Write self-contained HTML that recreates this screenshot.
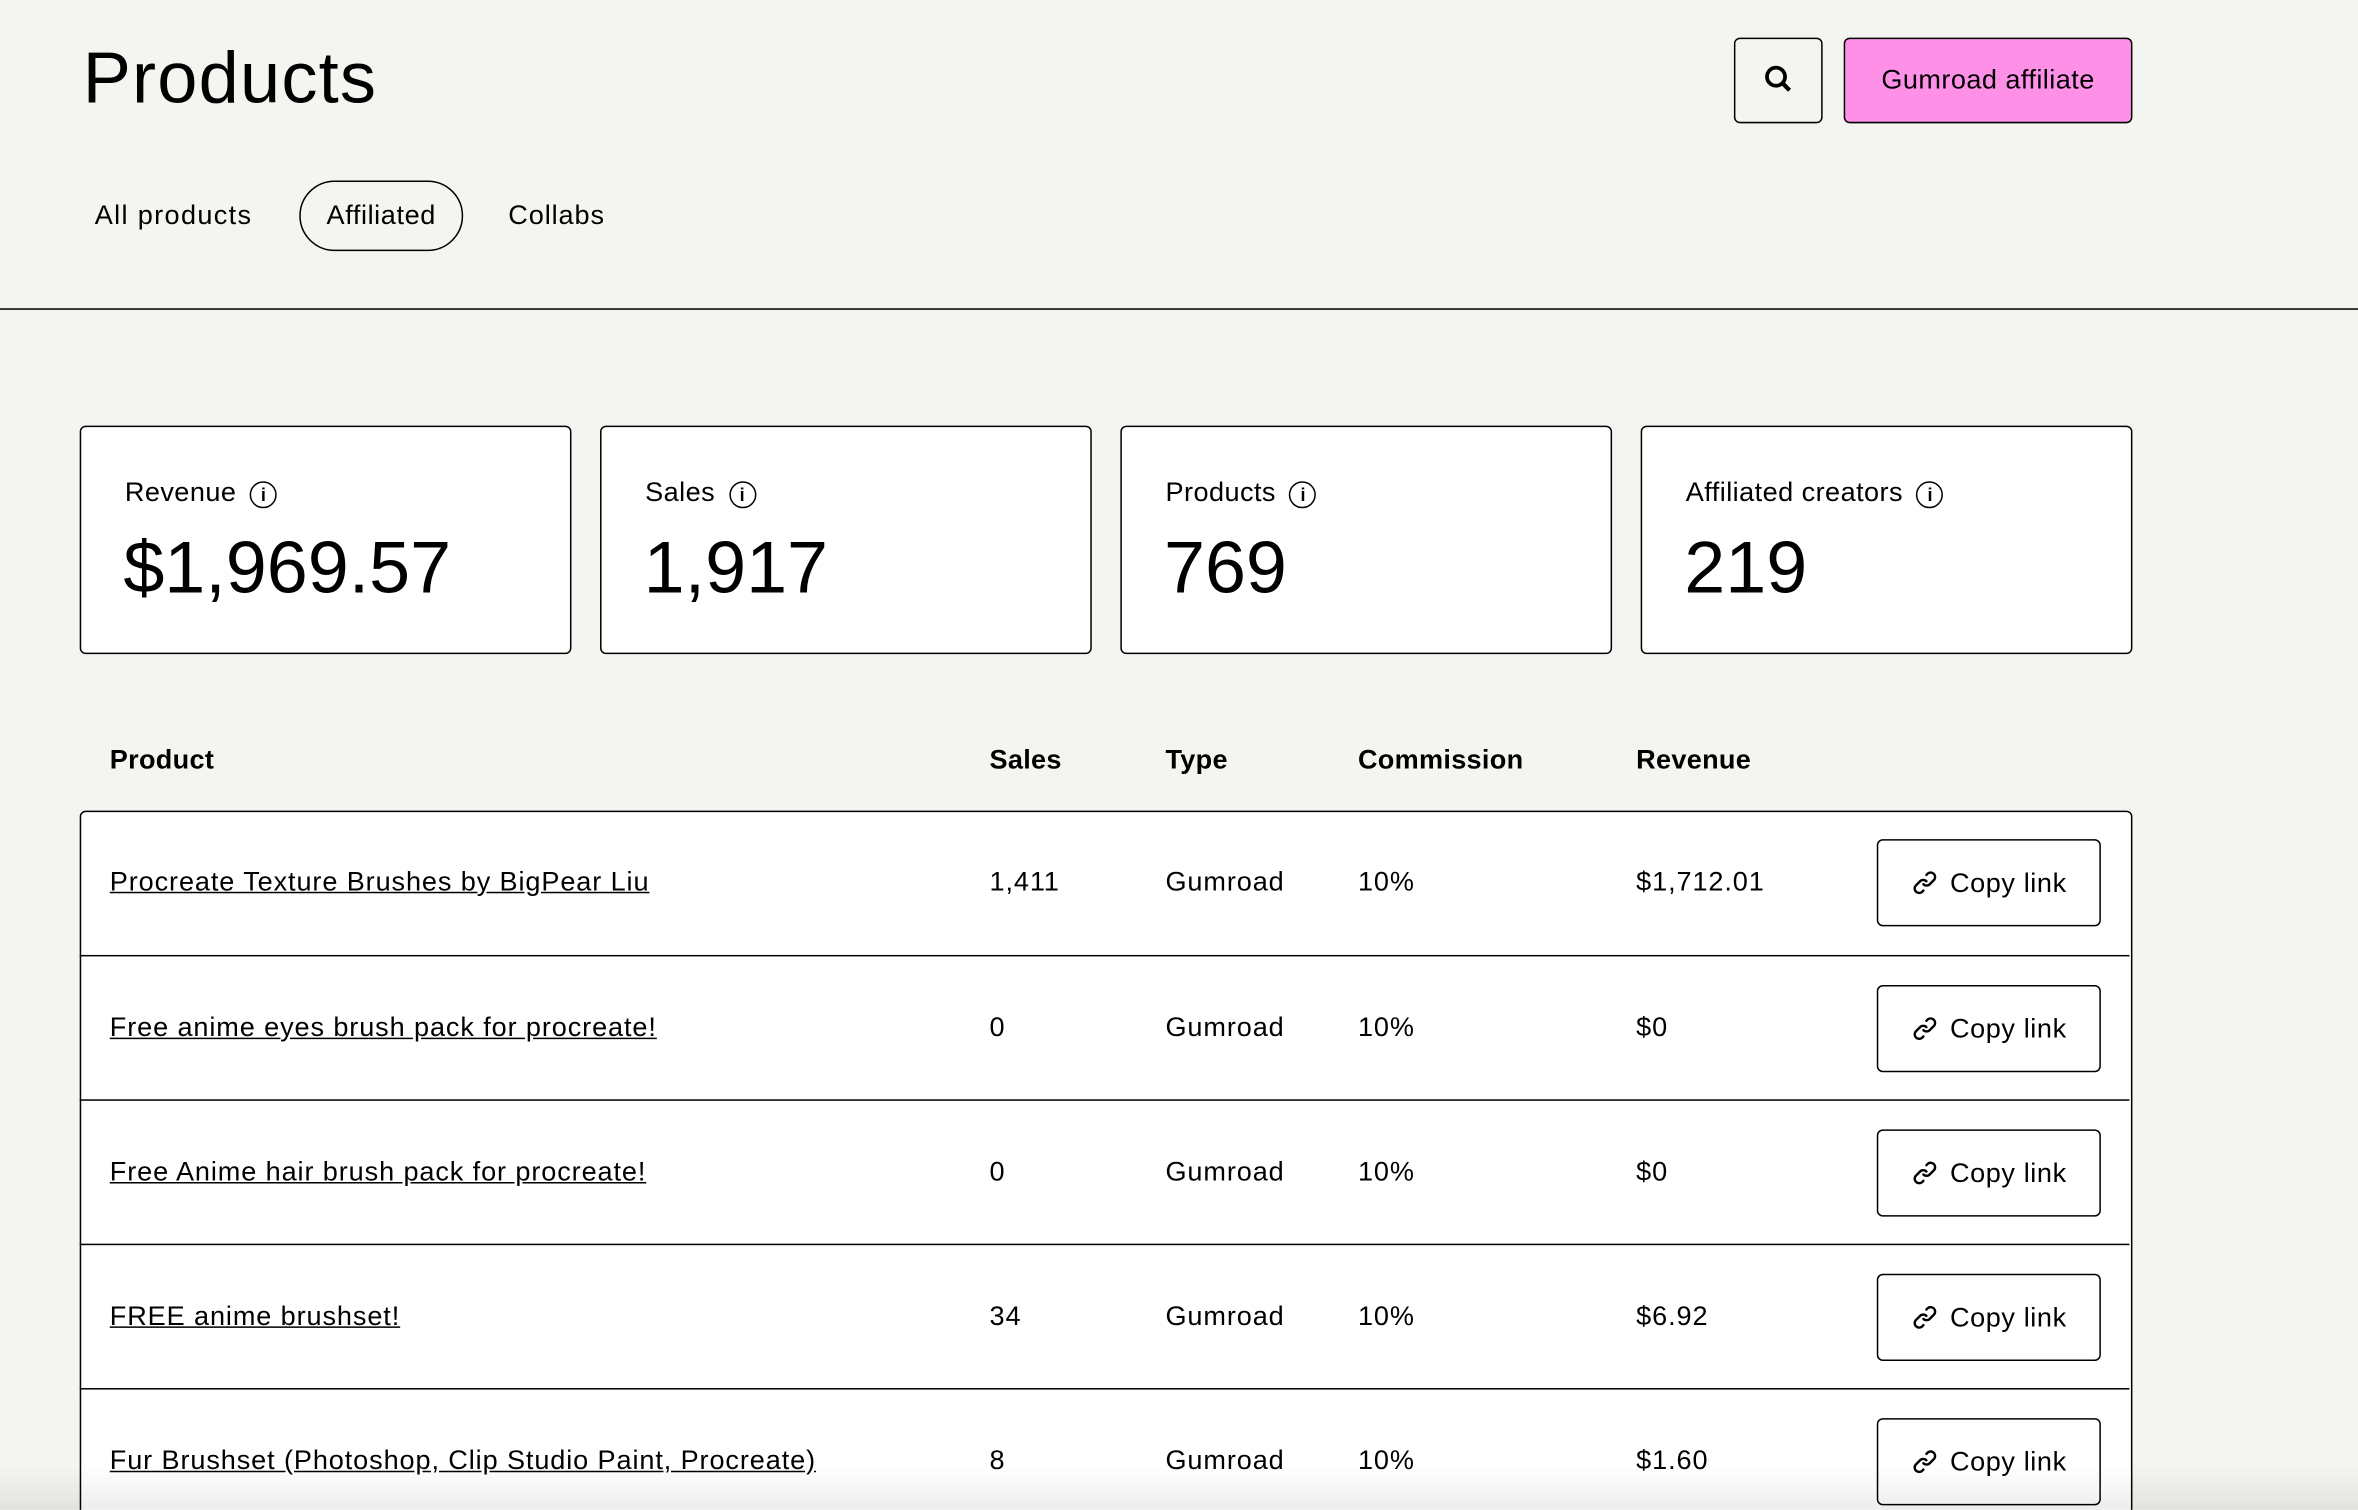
<!DOCTYPE html>
<html><head><meta charset="utf-8"><style>
html,body{margin:0;padding:0;}
body{width:2358px;height:1510px;overflow:hidden;background:#f4f4f0;font-family:"Liberation Sans",sans-serif;color:#000;position:relative;}
#w{position:absolute;left:0;top:0;width:1568px;height:1004px;transform:scale(1.50383);transform-origin:0 0;overflow:hidden;}
.a{position:absolute;white-space:nowrap;}
.card{position:absolute;top:283px;width:325px;height:150px;border:1px solid #000;background:#fff;border-radius:4px;}
.card .l{position:absolute;left:29px;top:33px;font-size:18px;letter-spacing:0.3px;}
.card .v{position:absolute;left:28px;top:66px;font-size:49px;letter-spacing:0px;}
.i{display:inline-block;width:16px;height:16px;border:1.5px solid #000;border-radius:50%;font-size:12px;line-height:16px;text-align:center;vertical-align:0px;margin-left:9px;font-weight:bold;letter-spacing:0;}
.th{position:absolute;top:495px;font-size:18px;font-weight:bold;letter-spacing:0.2px;}
.row{position:absolute;left:53px;width:1363px;height:95px;border-top:1px solid #000;}
.row span{position:absolute;top:37px;font-size:18px;letter-spacing:0.6px;}
.row .p{left:20px;text-decoration:underline;}
.btn{position:absolute;left:1195px;top:19px;width:147px;height:56px;border:1px solid #000;border-radius:4px;background:#fff;font-size:18px;line-height:56px;text-align:center;letter-spacing:0.4px;}
.btn svg{vertical-align:-3px;margin-right:8px;}
</style></head><body><div id="w">
<div class="a" style="left:55px;top:25px;font-size:48px;letter-spacing:0.8px;">Products</div>
<div class="a" style="left:1153px;top:25px;width:57px;height:55px;border:1px solid #000;border-radius:4px;background:#f4f4f0;">
<svg width="57" height="55" viewBox="0 0 57 55"><circle cx="27" cy="25" r="6" fill="none" stroke="#000" stroke-width="2.5"/><line x1="31" y1="29" x2="36" y2="34" stroke="#000" stroke-width="2.8"/></svg></div>
<div class="a" style="left:1226px;top:25px;width:190px;height:55px;border:1px solid #000;border-radius:4px;background:#ff90e8;font-size:18px;line-height:55px;text-align:center;letter-spacing:0.3px;">Gumroad affiliate</div>
<div class="a" style="left:63px;top:133px;font-size:18px;letter-spacing:0.9px;">All products</div>
<div class="a" style="left:199px;top:120px;width:107px;height:45px;border:1px solid #000;border-radius:24px;font-size:18px;line-height:45px;text-align:center;letter-spacing:0.4px;">Affiliated</div>
<div class="a" style="left:338px;top:133px;font-size:18px;letter-spacing:0.6px;">Collabs</div>
<div class="a" style="left:0;top:205px;width:1568px;height:1px;background:#000;"></div>
<div class="card" style="left:53px"><div class="l">Revenue<span class="i">i</span></div><div class="v">$1,969.57</div></div>
<div class="card" style="left:399px"><div class="l">Sales<span class="i">i</span></div><div class="v">1,917</div></div>
<div class="card" style="left:745px"><div class="l">Products<span class="i">i</span></div><div class="v">769</div></div>
<div class="card" style="left:1091px"><div class="l">Affiliated creators<span class="i">i</span></div><div class="v">219</div></div>
<div class="th" style="left:73px">Product</div><div class="th" style="left:658px">Sales</div><div class="th" style="left:775px">Type</div><div class="th" style="left:903px">Commission</div><div class="th" style="left:1088px">Revenue</div>
<div class="a" style="left:53px;top:539px;width:1363px;height:470px;border:1px solid #000;border-radius:4px;background:#fff;"></div>
<div class="row" style="top:539px;border-top:none"><span class="p">Procreate Texture Brushes by BigPear Liu</span><span style="left:605px">1,411</span><span style="left:722px">Gumroad</span><span style="left:850px">10%</span><span style="left:1035px">$1,712.01</span><div class="btn"><svg width="18" height="18" viewBox="0 0 18 18" fill="none" stroke="#000" stroke-width="1.6" stroke-linecap="round"><path d="M8 10a3 3 0 0 0 4.2 0l3-3a3 3 0 0 0-4.2-4.2l-1 1"/><path d="M10 8a3 3 0 0 0-4.2 0l-3 3a3 3 0 0 0 4.2 4.2l1-1"/></svg>Copy link</div></div>
<div class="row" style="top:635px"><span class="p">Free anime eyes brush pack for procreate!</span><span style="left:605px">0</span><span style="left:722px">Gumroad</span><span style="left:850px">10%</span><span style="left:1035px">$0</span><div class="btn"><svg width="18" height="18" viewBox="0 0 18 18" fill="none" stroke="#000" stroke-width="1.6" stroke-linecap="round"><path d="M8 10a3 3 0 0 0 4.2 0l3-3a3 3 0 0 0-4.2-4.2l-1 1"/><path d="M10 8a3 3 0 0 0-4.2 0l-3 3a3 3 0 0 0 4.2 4.2l1-1"/></svg>Copy link</div></div>
<div class="row" style="top:731px"><span class="p">Free Anime hair brush pack for procreate!</span><span style="left:605px">0</span><span style="left:722px">Gumroad</span><span style="left:850px">10%</span><span style="left:1035px">$0</span><div class="btn"><svg width="18" height="18" viewBox="0 0 18 18" fill="none" stroke="#000" stroke-width="1.6" stroke-linecap="round"><path d="M8 10a3 3 0 0 0 4.2 0l3-3a3 3 0 0 0-4.2-4.2l-1 1"/><path d="M10 8a3 3 0 0 0-4.2 0l-3 3a3 3 0 0 0 4.2 4.2l1-1"/></svg>Copy link</div></div>
<div class="row" style="top:827px"><span class="p">FREE anime brushset!</span><span style="left:605px">34</span><span style="left:722px">Gumroad</span><span style="left:850px">10%</span><span style="left:1035px">$6.92</span><div class="btn"><svg width="18" height="18" viewBox="0 0 18 18" fill="none" stroke="#000" stroke-width="1.6" stroke-linecap="round"><path d="M8 10a3 3 0 0 0 4.2 0l3-3a3 3 0 0 0-4.2-4.2l-1 1"/><path d="M10 8a3 3 0 0 0-4.2 0l-3 3a3 3 0 0 0 4.2 4.2l1-1"/></svg>Copy link</div></div>
<div class="row" style="top:923px"><span class="p">Fur Brushset (Photoshop, Clip Studio Paint, Procreate)</span><span style="left:605px">8</span><span style="left:722px">Gumroad</span><span style="left:850px">10%</span><span style="left:1035px">$1.60</span><div class="btn"><svg width="18" height="18" viewBox="0 0 18 18" fill="none" stroke="#000" stroke-width="1.6" stroke-linecap="round"><path d="M8 10a3 3 0 0 0 4.2 0l3-3a3 3 0 0 0-4.2-4.2l-1 1"/><path d="M10 8a3 3 0 0 0-4.2 0l-3 3a3 3 0 0 0 4.2 4.2l1-1"/></svg>Copy link</div></div>
<div class="a" style="left:0;top:975px;width:1568px;height:29px;background:linear-gradient(rgba(0,0,0,0),rgba(0,0,0,0.07));"></div>
</div></body></html>
